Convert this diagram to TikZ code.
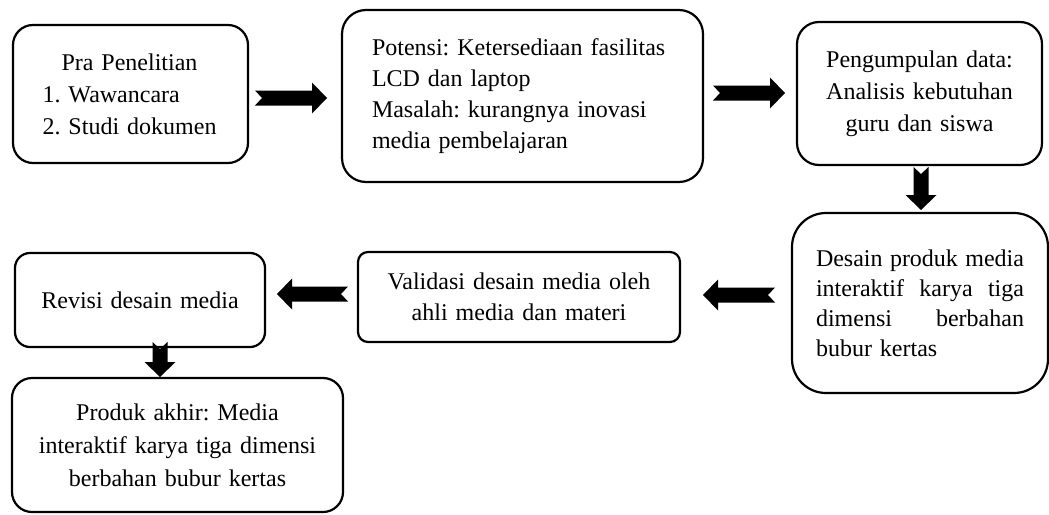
\documentclass[tikz,border=0pt]{standalone}
\usepackage{fontspec}
\setmainfont{Liberation Serif}
\usetikzlibrary{calc}
\tikzset{
  box/.style={draw, line width=1.1pt, rounded corners=#1, inner sep=0pt,
    font=\fontsize{12}{15.5}\selectfont},
}
\newcommand\blockarr[2]{%
  \coordinate (ba-h) at ($(#2)!7.5pt!(#1)$);
  \coordinate (ba-n) at ($(#1)!3.5pt!(#2)$);
  \fill[black] ($(#1)!3.75pt!90:(#2)$) -- ($(ba-h)!3.75pt!-90:(#1)$)
    -- ($(ba-h)!7.75pt!-90:(#1)$) -- (#2) -- ($(ba-h)!7.75pt!90:(#1)$)
    -- ($(ba-h)!3.75pt!90:(#1)$) -- ($(#1)!3.75pt!-90:(#2)$) -- (ba-n) -- cycle;
}
\begin{document}
\frenchspacing
\begin{tikzpicture}[x=0.5pt, y=-0.5pt]
\useasboundingbox (0,0) rectangle (1049,514);

\node[box=10pt, minimum width=117.5pt, minimum height=69pt, text width=88pt, align=left,
  font=\fontsize{12}{16}\selectfont]
  (pra) at (130.5,94) {\hspace*{9.5pt}Pra Penelitian\\1. Wawancara\\2. Studi dokumen};

\node[box=12pt, minimum width=180.5pt, minimum height=86pt, text width=150.5pt, align=left]
  (pot) at (522.5,96) {Potensi: Ketersediaan fasilitas\\LCD dan laptop\\Masalah: kurangnya inovasi\\media pembelajaran};

\node[box=11pt, minimum width=122.5pt, minimum height=71.5pt, text width=110pt, align=center,
  font=\fontsize{12}{16}\selectfont]
  (kum) at (919.5,93.5) {Pengumpulan data:\\Analisis kebutuhan\\guru dan siswa};

\node[box=17pt, minimum width=128pt, minimum height=90pt, text width=104pt, align=left,
  font=\fontsize{12}{15}\selectfont]
  (des) at (920,303) {\makebox[104pt][l]{Desain\hfill produk\hfill media}\\\makebox[104pt][l]{interaktif\hfill karya\hfill tiga}\\\makebox[104pt][l]{dimensi\hfill berbahan}\\bubur kertas};

\node[box=5pt, minimum width=161pt, minimum height=45pt, text width=150pt, align=center]
  (val) at (519,297) {Validasi desain media oleh\\ahli media dan materi};

\node[box=7.5pt, minimum width=125pt, minimum height=47pt, text width=115pt, align=center]
  (rev) at (140,300) {Revisi desain media};

\node[box=10pt, minimum width=165.5pt, minimum height=67pt, text width=155pt, align=center,
  font=\fontsize{12}{16.5}\selectfont]
  (prod) at (177.5,445) {Produk akhir: Media\\interaktif karya tiga dimensi\\berbahan bubur kertas};

\coordinate (a1s) at (255,98);  \coordinate (a1e) at (327,98);
\coordinate (a2s) at (713,93);  \coordinate (a2e) at (785,93);
\coordinate (a3s) at (921,167); \coordinate (a3e) at (921,210);
\coordinate (a4s) at (775,295); \coordinate (a4e) at (703,295);
\coordinate (a5s) at (348,294); \coordinate (a5e) at (277,294);
\coordinate (a6s) at (160,342); \coordinate (a6e) at (160,377);

\blockarr{a1s}{a1e}
\blockarr{a2s}{a2e}
\blockarr{a3s}{a3e}
\blockarr{a4s}{a4e}
\blockarr{a5s}{a5e}
\blockarr{a6s}{a6e}
\end{tikzpicture}
\end{document}
